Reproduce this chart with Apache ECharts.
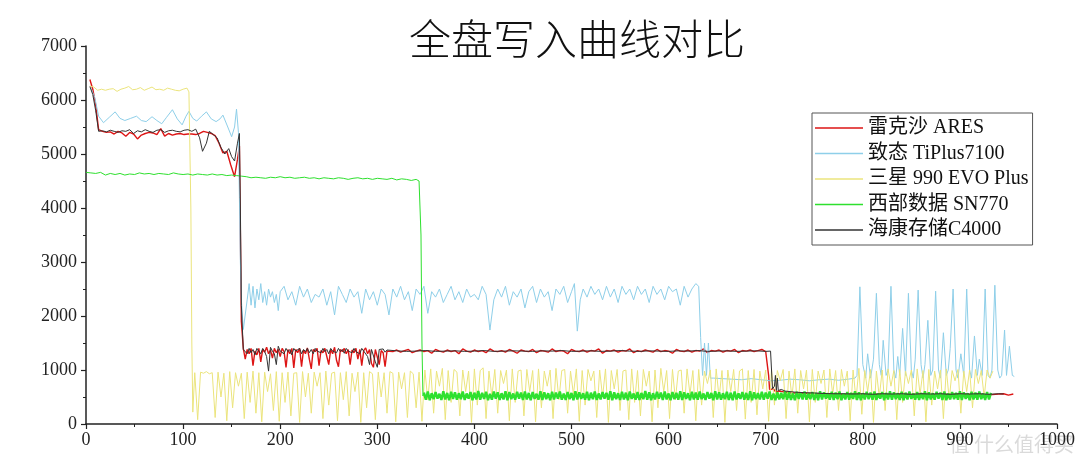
<!DOCTYPE html>
<html>
<head>
<meta charset="utf-8">
<script src="https://cdn.jsdelivr.net/npm/echarts@6/dist/echarts.min.js"></script>
<style>
  html, body { margin: 0; padding: 0; background: #fff; }
  #chart { width: 1080px; height: 462px; }
</style>
</head>
<body>
<div id="chart"></div>
<script>
var titleText = '全盘写入曲线对比';
var seriesNames = ['雷克沙 ARES', '致态 TiPlus7100', '三星 990 EVO Plus', '西部数据 SN770', '海康存储C4000'];
var seriesColors = ['#dd1515', '#8ecfe9', '#ebe47c', '#2ee02e', '#333333'];

// 雷克沙 ARES
var aresData = [
  [4,6380],[7,6200],[10,5900],[13,5450],[17,5420],[21,5400],[25,5410],[29,5370],[33,5420],[37,5390],
  [41,5330],[45,5400],[49,5370],[53,5280],[57,5350],[61,5380],[65,5400],[69,5390],[73,5360],[77,5470],
  [81,5330],[85,5380],[89,5350],[93,5370],[97,5380],[101,5360],[105,5370],[109,5370],[113,5360],[117,5380],
  [121,5420],[125,5400],[129,5380],[133,5340],[137,5200],[141,5020],[145,5050],[149,4800],[153,4580],[156,4900],
  [158,5150],[159,3500],[160,1900],[162,1400],
  [164,1200],[166,1380],[168,1300],[170,1400],[172,1080],[174,1350],[176,1280],[178,1400],[180,1150],[182,1380],
  [184,1330],[186,1420],[188,1300],[190,1370],[192,1220],[194,1400],[196,1320],[198,1380],[200,1250],[202,1400],
  [204,1340],[206,1050],[208,1380],[210,1300],[212,1400],[214,1040],[216,1380],[218,1320],[220,1400],[222,1060],
  [224,1370],[226,1300],[228,1410],[230,1200],[232,1020],[234,1380],[236,1340],[238,1400],[240,1080],[242,1360],
  [244,1320],[246,1400],[248,1250],[250,1100],[252,1380],[254,1300],[256,1420],[258,1180],[260,1060],[262,1380],
  [264,1340],[266,1400],[268,1300],[270,1380],[272,1100],[274,1370],[276,1320],[278,1400],[280,1200],[282,1380],
  [284,1080],[286,1360],[288,1410],[290,1300],[292,1380],[294,1120],[296,1050],[298,1380],[300,1400],[302,1100],
  [304,1360],[306,1320],[308,1060],[310,1350],[312,1320],
  [316,1340],[320,1370],[324,1330],[328,1360],[332,1380],[336,1320],[340,1350],[344,1370],[348,1340],[352,1360],
  [356,1310],[360,1380],[364,1350],[368,1330],[372,1370],[376,1340],[380,1360],[384,1300],[388,1390],[392,1350],
  [396,1330],[400,1370],[404,1340],[408,1360],[412,1320],[416,1390],[420,1350],[424,1340],[428,1360],[432,1330],
  [436,1380],[440,1350],[444,1310],[448,1370],[452,1350],[456,1340],[460,1380],[464,1320],[468,1360],[472,1350],
  [476,1330],[480,1390],[484,1340],[488,1360],[492,1350],[496,1300],[500,1380],[504,1350],[508,1340],[512,1370],
  [516,1330],[520,1360],[524,1350],[528,1390],[532,1310],[536,1360],[540,1350],[544,1370],[548,1330],[552,1360],
  [556,1350],[560,1390],[564,1320],[568,1360],[572,1340],[576,1370],[580,1350],[584,1330],[588,1380],[592,1340],
  [596,1360],[600,1350],[604,1310],[608,1380],[612,1350],[616,1340],[620,1370],[624,1330],[628,1360],[632,1350],
  [636,1390],[640,1320],[644,1360],[648,1350],[652,1370],[656,1330],[660,1360],[664,1350],[668,1380],[672,1320],
  [676,1360],[680,1350],[684,1370],[688,1340],[692,1360],[696,1380],[700,1340],[702,1350],
  [703,900],[704,640],[706,620],[708,650],[710,600],[715,610],[720,590],[725,580],[730,575],[740,570],
  [750,560],[760,555],[770,560],[780,545],[790,555],[800,550],[810,545],[820,555],[830,540],[840,550],
  [850,545],[860,555],[870,540],[880,550],[890,545],[900,555],[910,545],[920,550],[930,540],[940,555],
  [945,560],[950,535],[955,555]
];

// 致态 TiPlus7100
var tiplusData = [
  [5,6220],[9,6050],[13,5700],[18,5580],[24,5680],[30,5780],[35,5660],[40,5620],[46,5660],[52,5700],
  [57,5620],[62,5600],[68,5690],[73,5620],[78,5560],[83,5680],[89,5820],[94,5650],[99,5540],[103,5700],
  [106,5790],[110,5660],[114,5610],[119,5700],[124,5780],[129,5650],[134,5600],[138,5650],[141,5720],[146,5500],
  [150,5320],[153,5500],[155,5830],[157,5400],[158,4200],[159,3000],[160,2300],[162,1750],
  [164,1780],[166,2300],[168,2600],[170,2200],[172,2550],[174,2150],[176,2500],[178,2300],[180,2600],[182,2250],
  [184,2450],[186,2200],[188,2500],[190,2350],[192,2450],[194,2250],[196,2400],[198,2100],[200,2450],[204,2550],
  [208,2300],[212,2450],[216,2200],[220,2550],[224,2350],[228,2500],[232,2250],[236,2400],[240,2350],[244,2500],
  [248,2200],[252,2450],[256,2020],[260,2550],[264,2400],[268,2250],[272,2500],[276,2350],[280,2450],[284,2050],
  [288,2500],[292,2300],[296,2450],[300,2200],[304,2500],[308,2400],[312,2020],[316,2500],[320,2350],[324,2550],
  [328,2300],[332,2450],[336,2100],[340,2500],[344,2400],[348,2550],[352,2050],[356,2450],[360,2350],[364,2500],
  [368,2250],[372,2400],[376,2550],[380,2300],[384,2450],[388,2250],[392,2500],[396,2350],[400,2400],[404,2300],
  [408,2550],[412,2400],[416,1740],[420,2300],[424,2500],[428,2350],[432,2550],[436,2200],[440,2450],[444,2350],
  [448,2500],[452,2150],[456,2450],[460,2550],[464,2250],[468,2500],[472,2350],[476,2450],[480,2100],[484,2500],
  [488,2400],[492,2550],[496,2250],[500,2450],[503,2600],[506,1720],[509,2300],[512,2500],[516,2350],[520,2550],
  [524,2400],[528,2500],[532,2300],[536,2550],[540,2350],[544,2500],[548,2250],[552,2550],[556,2400],[560,2500],
  [564,2300],[568,2550],[572,2400],[576,2500],[580,2250],[584,2550],[588,2400],[592,2500],[596,2300],[600,2550],
  [604,2450],[608,2500],[612,2200],[616,2550],[620,2350],[624,2500],[628,2600],[631,2550],[633,1600],[635,900],
  [637,1500],[639,900],[641,1500],[643,850],
  [646,850],[655,840],[665,830],[675,820],[685,840],[695,820],[705,800],[715,810],[725,830],[735,820],
  [745,800],[755,820],[765,830],[775,810],[785,830],[792,850],
  [794,900],[797,2540],[800,1100],[803,850],[805,1300],[808,850],[811,1200],[814,2420],[817,1100],[819,900],
  [821,1550],[824,900],[826,1000],[829,2550],[832,1000],[834,850],[836,1250],[838,900],[841,1770],[844,900],
  [847,2420],[850,1000],[852,850],[854,1200],[857,2480],[860,1100],[862,850],[864,1100],[867,1920],[870,900],
  [872,1000],[875,2460],[878,1000],[880,850],[883,1690],[886,900],[888,1000],[890,1400],[893,2500],[896,1000],
  [898,850],[901,1300],[904,900],[907,2500],[910,1000],[912,850],[915,1630],[918,900],[920,1200],[923,900],
  [926,2500],[929,900],[931,850],[933,1000],[936,2570],[939,1000],[941,850],[943,900],[946,1740],[948,900],
  [951,1440],[954,900],[956,880]
];

// 三星 990 EVO Plus
var evoData = [
  [4,6260],[8,6240],[12,6180],[16,6200],[20,6180],[24,6200],[28,6210],[32,6160],[36,6200],[40,6220],
  [44,6250],[48,6190],[52,6200],[56,6230],[60,6180],[64,6210],[68,6240],[72,6190],[76,6200],[80,6180],
  [84,6220],[88,6200],[92,6180],[96,6170],[100,6200],[104,6220],[106,6150],[108,4000],[109,1500],[110,220],
  [112,950],[115,80],[118,960],[121,940],[124,970],[127,930],[130,950],[133,120],[136,960],[139,500],
  [142,940],[145,60],[148,970],[151,300],[154,950],[157,700],[160,940],[163,100],[166,960],[169,400],
  [172,980],[175,200],[178,950],[181,40],[184,960],[187,600],[190,930],[193,250],[196,970],[199,50],
  [202,950],[205,400],[208,960],[211,150],[214,940],[217,950],[220,30],[223,970],[226,500],[229,940],
  [232,200],[235,960],[238,700],[241,950],[244,100],[247,980],[250,350],[253,940],[256,960],[259,60],
  [262,950],[265,450],[268,970],[271,150],[274,940],[277,600],[280,960],[283,30],[286,950],[289,300],
  [292,970],[295,930],[298,80],[301,960],[304,500],[307,950],[310,200],[313,970],[316,940],[319,40],
  [322,960],[325,650],[328,950],[331,120],[334,980],[337,930],[340,300],[343,960],[346,50],[349,1000],
  [352,450],[355,1020],[358,200],[361,980],[364,700],[367,1030],[370,80],[373,990],[376,400],[379,1010],
  [382,960],[385,150],[388,1000],[391,600],[394,980],[397,30],[400,1020],[403,350],[406,990],[409,1040],
  [412,100],[415,980],[418,500],[421,1010],[424,200],[427,990],[430,750],[433,1000],[436,60],[439,1020],
  [442,400],[445,980],[448,1000],[451,150],[454,1010],[457,600],[460,990],[463,40],[466,1020],[469,300],
  [472,980],[475,700],[478,1000],[481,100],[484,1030],[487,450],[490,990],[493,1010],[496,200],[499,980],
  [502,550],[505,1020],[508,50],[511,990],[514,350],[517,1010],[520,800],[523,980],[526,120],[529,1000],
  [532,500],[535,1020],[538,30],[541,990],[544,650],[547,1010],[550,250],[553,980],[556,1000],[559,80],
  [562,1020],[565,400],[568,990],[571,150],[574,1010],[577,700],[580,980],[583,40],[586,1000],[589,300],
  [592,1030],[595,600],[598,990],[601,100],[604,1010],[607,450],[610,980],[613,1000],[616,200],[619,1020],
  [622,550],[625,990],[628,60],[631,1010],[634,350],[637,980],[640,750],[643,1000],[646,120],[649,1020],
  [652,480],[655,990],[658,30],[661,1000],[664,600],[667,1010],[670,250],[673,980],[676,1020],[679,90],
  [682,990],[685,400],[688,1010],[691,170],[694,980],[697,650],[700,1000],[703,50],[706,1020],[709,350],
  [712,990],[715,800],[718,1010],[721,100],[724,980],[727,500],[730,1020],[733,200],[736,990],[739,650],
  [742,1000],[745,40],[748,1010],[751,400],[754,980],[757,750],[760,1000],[763,120],[766,1020],[769,550],
  [772,990],[775,250],[778,1010],[781,700],[784,980],[787,60],[790,1000],[793,450],[796,1030],[799,180],
  [802,990],[805,600],[808,1010],[811,30],[814,980],[817,500],[820,1000],[823,250],[826,1020],[829,700],
  [832,990],[835,80],[838,1010],[841,400],[844,980],[847,750],[850,1000],[853,150],[856,1020],[859,550],
  [862,990],[865,40],[868,1010],[871,350],[874,980],[877,650],[880,1000],[883,100],[886,1020],[889,450],
  [892,990],[895,800],[898,1010],[901,200],[904,980],[907,600],[910,1000],[913,300],[916,1010],[919,750],
  [922,990],[925,500],[928,1000],[931,850],[934,980]
];

// 西部数据 SN770: steady part, then the dense band sampled every 2 units from x = 348
var sn770Data = [
  [0,4660],[5,4650],[10,4640],[15,4660],[20,4610],[25,4640],[30,4620],[35,4640],[40,4610],[45,4630],
  [50,4620],[55,4650],[60,4630],[65,4640],[70,4620],[75,4640],[80,4630],[85,4620],[90,4650],[95,4630],
  [100,4620],[105,4630],[110,4610],[115,4630],[120,4620],[125,4610],[130,4630],[135,4610],[140,4620],[145,4600],
  [150,4610],[155,4600],[160,4590],[165,4580],[170,4560],[175,4570],[180,4560],[185,4550],[190,4570],[195,4560],
  [200,4580],[205,4560],[210,4570],[215,4550],[220,4560],[225,4570],[230,4550],[235,4560],[240,4540],[245,4560],
  [250,4550],[255,4540],[260,4560],[265,4550],[270,4530],[275,4550],[280,4560],[285,4540],[290,4550],[295,4530],
  [300,4550],[305,4540],[310,4530],[315,4550],[320,4520],[325,4540],[330,4530],[335,4510],[340,4530],[343,4500],
  [345,3500],[346,1500],[347,520],[348,580]
];
var sn770Band = [
  580,450,600,440,570,460,590,470,560,445,605,455,575,440,595,465,585,450,570,460,
  600,445,565,470,590,440,580,455,610,450,575,465,595,440,560,450,600,470,585,445,
  570,455,605,440,590,460,565,450,595,470,580,445,600,455,575,440,590,465,560,450,
  605,445,585,460,570,440,595,455,580,470,600,450,565,445,590,460,575,440,605,455,
  585,465,570,450,595,440,580,460,600,445,565,455,590,470,575,450,605,440,585,460,
  570,445,595,455,580,440,600,465,565,450,590,445,575,460,610,450,585,440,570,455,
  595,470,580,445,600,455,565,440,590,460,575,450,605,445,585,465,570,440,595,455,
  580,450,600,460,565,445,590,470,575,440,605,455,585,450,570,460,595,445,580,440,
  600,455,565,465,590,450,575,445,605,440,585,460,570,455,595,450,580,470,600,445,
  565,440,590,455,575,460,605,450,585,445,570,440,595,465,580,455,600,450,565,460,
  590,445,575,440,605,455,585,470,570,450,595,445,580,460,600,440,565,455,590,450,
  575,465,605,445,585,440,570,455,595,460,580,450,600,445,565,470,590,440,575,455,
  605,450,585,460,570,445,595,440,580,455,600,465,565,450,590,445,575,460,605,440,
  585,455,570,450,595,470,580,445,600,440,565,455,590,460,575,450,605,445,585,465,
  570,440,595,455,580,450,600,460,565,445,590,455,575
];

// 海康存储C4000
var c4000Data = [
  [4,6250],[7,6100],[10,5800],[13,5420],[17,5430],[21,5410],[25,5440],[29,5420],[33,5400],[37,5430],
  [41,5420],[45,5450],[49,5380],[53,5430],[57,5410],[61,5450],[65,5420],[69,5400],[73,5440],[77,5450],
  [81,5400],[85,5430],[89,5440],[93,5420],[97,5410],[101,5440],[105,5450],[109,5420],[113,5460],[117,5300],
  [120,5050],[124,5200],[127,5420],[131,5360],[135,5300],[139,5120],[143,5000],[147,5100],[150,4950],[153,4870],
  [156,5200],[158,5380],[159,4000],[160,2200],[162,1380],
  [164,1350],[166,1300],[168,1400],[170,1320],[172,1380],[174,1280],[176,1400],[178,1350],[180,1300],[182,1400],
  [184,1340],[186,1250],[188,980],[190,1420],[192,1350],[194,1300],[196,1100],[198,1440],[200,1350],[202,1380],
  [204,1300],[206,1400],[208,1340],[210,1380],[212,1280],[214,1400],[216,1350],[218,1320],[220,1400],[222,1300],
  [224,1380],[226,1340],[228,1400],[230,1320],[232,1380],[234,1300],[236,1400],[238,1350],[240,1380],[242,1320],
  [244,1400],[246,1340],[248,1380],[250,1300],[252,1400],[254,1350],[256,1380],[258,1320],[260,1400],[262,1340],
  [264,1380],[266,1310],[268,1400],[270,1350],[272,1380],[274,1320],[276,1400],[278,1340],[280,1370],[282,1300],
  [284,1400],[286,1350],[288,1380],[290,1250],[292,1100],[294,1380],[296,1400],[298,1150],[300,1050],[302,1380],
  [304,1350],[306,1390],[308,1330],[310,1370],[312,1350],
  [320,1355],[330,1345],[340,1350],[350,1360],[360,1345],[370,1350],[380,1355],[390,1345],[400,1350],[410,1360],
  [420,1345],[430,1350],[440,1355],[450,1350],[460,1345],[470,1355],[480,1350],[490,1360],[500,1345],[510,1350],
  [520,1355],[530,1345],[540,1350],[550,1360],[560,1350],[570,1345],[580,1355],[590,1350],[600,1345],[610,1355],
  [620,1350],[630,1360],[640,1345],[650,1350],[660,1355],[670,1345],[680,1350],[690,1355],[700,1345],[705,1350],
  [706,1000],[707,650],[709,700],[710,900],[711,620],[712,850],[713,620],[716,640],[720,610],[725,600],
  [730,590],[740,580],[750,575],[760,565],[770,560],[780,560],[790,555],[800,560],[810,550],[820,560],
  [830,555],[840,560],[850,550],[860,560],[870,555],[880,560],[890,550],[900,560],[910,555],[920,560],
  [930,550],[940,560],[945,555]
];

var bandStart = 348;
var bandStep = 2;
var sn770BandData = sn770Band.map(function (v, i) {
  return [bandStart + i * bandStep, v];
});

var chart = echarts.init(document.getElementById('chart'));

var axisFont = {
  fontFamily: 'Liberation Serif',
  fontSize: 18,
  color: '#222',
  formatter: function (v) { return String(v); }
};

function lineSeries(name, data, color, width) {
  return {
    name: name,
    type: 'line',
    data: data,
    symbol: 'none',
    animation: false,
    lineStyle: { color: color, width: width },
    itemStyle: { color: color }
  };
}

var series = [
  lineSeries(seriesNames[0], aresData, seriesColors[0], 1.4),
  lineSeries(seriesNames[1], tiplusData, seriesColors[1], 1),
  lineSeries(seriesNames[2], evoData, seriesColors[2], 1),
  lineSeries(seriesNames[3], sn770Data, seriesColors[3], 1),
  // the dense SN770 band reads as a solid strip, so it gets a wider stroke
  lineSeries(seriesNames[3], sn770BandData, seriesColors[3], 2.4),
  lineSeries(seriesNames[4], c4000Data, seriesColors[4], 1)
];

chart.setOption({
  backgroundColor: '#fff',
  animation: false,
  title: {
    text: titleText,
    left: 404,
    top: 13,
    textStyle: {
      fontFamily: 'Noto Sans CJK SC',
      fontWeight: 300,
      fontSize: 42,
      color: '#111'
    }
  },
  legend: {
    orient: 'vertical',
    left: 812,
    top: 113,
    padding: [5, 4, 5, 3],
    icon: 'rect',
    itemWidth: 48,
    itemHeight: 1.3,
    itemGap: 5.5,
    borderColor: '#555',
    borderWidth: 1,
    data: seriesNames,
    textStyle: {
      fontFamily: 'Liberation Serif, Noto Sans CJK SC',
      fontSize: 20,
      lineHeight: 20,
      color: '#111'
    }
  },
  grid: {
    left: 86,
    right: 23,
    top: 46,
    bottom: 38
  },
  xAxis: {
    type: 'value',
    min: 0,
    max: 1000,
    interval: 100,
    axisLine: { lineStyle: { color: '#222', width: 1.5 } },
    axisTick: { length: 5, lineStyle: { color: '#222', width: 1.2 } },
    minorTick: { show: true, splitNumber: 2, length: 3, lineStyle: { color: '#222', width: 1 } },
    splitLine: { show: false },
    axisLabel: Object.assign({ margin: 7 }, axisFont)
  },
  yAxis: {
    type: 'value',
    min: 0,
    max: 7000,
    interval: 1000,
    axisLine: { show: true, lineStyle: { color: '#222', width: 1.5 } },
    axisTick: { show: true, length: 5, lineStyle: { color: '#222', width: 1.2 } },
    minorTick: { show: true, splitNumber: 2, length: 3, lineStyle: { color: '#222', width: 1 } },
    splitLine: { show: false },
    axisLabel: Object.assign({ margin: 9 }, axisFont)
  },
  graphic: [{
    type: 'text',
    right: 6,
    bottom: 8,
    style: {
      text: '值 什么值得买',
      fontFamily: 'Noto Sans CJK SC',
      fontSize: 20,
      fill: 'rgba(150,150,150,0.35)'
    }
  }],
  series: series
});
</script>
</body>
</html>
